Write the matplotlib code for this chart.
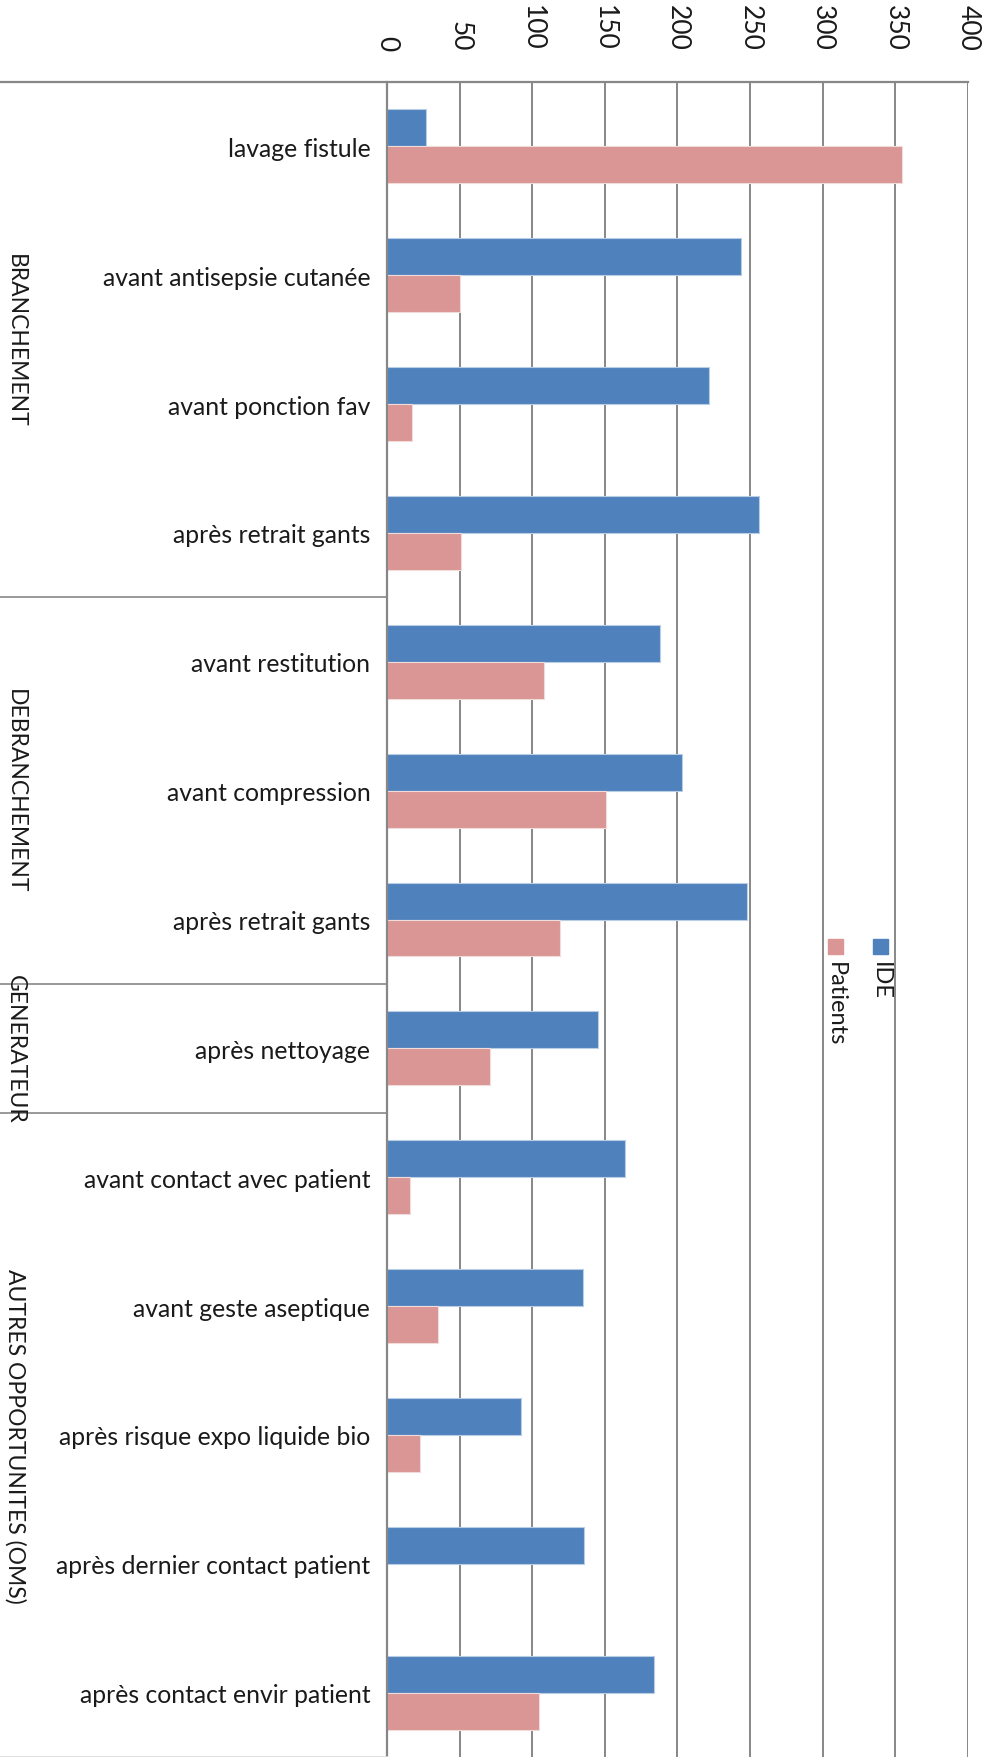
import matplotlib
matplotlib.use("Agg")
import matplotlib.pyplot as plt
from matplotlib.patches import Rectangle
from matplotlib.lines import Line2D
import matplotlib.transforms as mtransforms

plt.rcParams['font.family'] = ['Lato', 'DejaVu Sans']

categories = ["lavage fistule", "avant antisepsie cutanée", "avant ponction fav",
              "après retrait gants", "avant restitution", "avant compression",
              "après retrait gants", "après nettoyage", "avant contact avec patient",
              "avant geste aseptique", "après risque expo liquide bio",
              "après dernier contact patient", "après contact envir patient"]
ide = [27, 244, 222, 256, 188, 203, 248, 145, 164, 135, 92, 136, 184]
patients = [355, 50, 17, 51, 108, 151, 119, 71, 16, 35, 23, 0, 105]
groups = ["BRANCHEMENT", "DEBRANCHEMENT", "GENERATEUR", "AUTRES OPPORTUNITES (OMS)"]
group_sizes = [4, 3, 1, 5]
series_names = ["IDE", "Patients"]
xticks = [0, 50, 100, 150, 200, 250, 300, 350, 400]

W, H = 987, 1758
fig = plt.figure(figsize=(W / 100, H / 100), dpi=100)
ax_left = 387 / W
ax_right = 967.8 / W
ax_top = 1 - 83 / H
ax = fig.add_axes([ax_left, 0.0, ax_right - ax_left, ax_top])

blue = "#4F81BD"
pink = "#D99694"
grid_c = "#878787"
h = 0.287
ys = list(range(len(categories)))
ax.barh([y - h / 2 for y in ys], ide, height=h, color=blue,
        edgecolor="#B9CDE5", linewidth=0.8, zorder=3)
ax.barh([y + h / 2 for y in ys], patients, height=h, color=pink,
        edgecolor="#F2DCDB", linewidth=0.8, zorder=3)

ax.set_xlim(0, 400)
ax.set_ylim(len(categories) - 0.5, -0.5)
ax.xaxis.tick_top()
ax.set_xticks(xticks)
ax.set_xticklabels([str(t) for t in xticks], rotation=-90, fontsize=19, color="#1a1a1a")
ax.tick_params(axis="x", length=0, pad=23)
ax.set_yticks(ys)
ax.set_yticklabels(categories, fontsize=17.8, color="#1a1a1a")
ax.tick_params(axis="y", length=0, pad=12)
ax.grid(axis="x", color=grid_c, linewidth=1.4, zorder=1)
ax.grid(axis="y", visible=False)
for s in ["top", "right", "bottom"]:
    ax.spines[s].set_visible(False)
ax.spines["left"].set_color(grid_c)
ax.spines["left"].set_linewidth(1.6)
ax.spines["left"].set_zorder(4)

# axis frame extending to the left (multi-level category axis)
trans = mtransforms.blended_transform_factory(ax.transAxes, ax.transData)
x_left_axes = -ax_left / (ax_right - ax_left)
ax.add_line(Line2D([x_left_axes, 1], [-0.5, -0.5], transform=trans, color=grid_c,
                   linewidth=1.6, clip_on=False, zorder=5))
# group separators & labels
start = 0
for g, n in zip(groups, group_sizes):
    end = start + n
    if end < len(categories):
        ax.add_line(Line2D([x_left_axes, 0], [end - 0.5, end - 0.5], transform=trans,
                           color=grid_c, linewidth=1.2, clip_on=False, zorder=5))
    mid = (start + end - 1) / 2
    yfig = fig.transFigure.inverted().transform(ax.transData.transform((0, mid)))[1]
    fig.text(15 / W, yfig, g, rotation=-90, ha="center", va="center",
             fontsize=16.5, color="#1a1a1a")
    start = end
ax.add_line(Line2D([x_left_axes, 0], [len(categories) - 0.5] * 2, transform=trans,
                   color="#d9d9d9", linewidth=1.2, clip_on=False, zorder=5))

# legend (rotated, drawn manually)
for name, col, cx in zip(series_names, [blue, pink], [880.5, 835.5]):
    fig.patches.append(Rectangle(((cx - 7.5) / W, 1 - 955 / H), 15 / W, 15 / H,
                                 transform=fig.transFigure, color=col))
    fig.text(cx / W, 1 - 962 / H, name, rotation=-90, ha="center", va="top",
             fontsize=17, color="#1a1a1a")

fig.savefig("out.png", dpi=100)
